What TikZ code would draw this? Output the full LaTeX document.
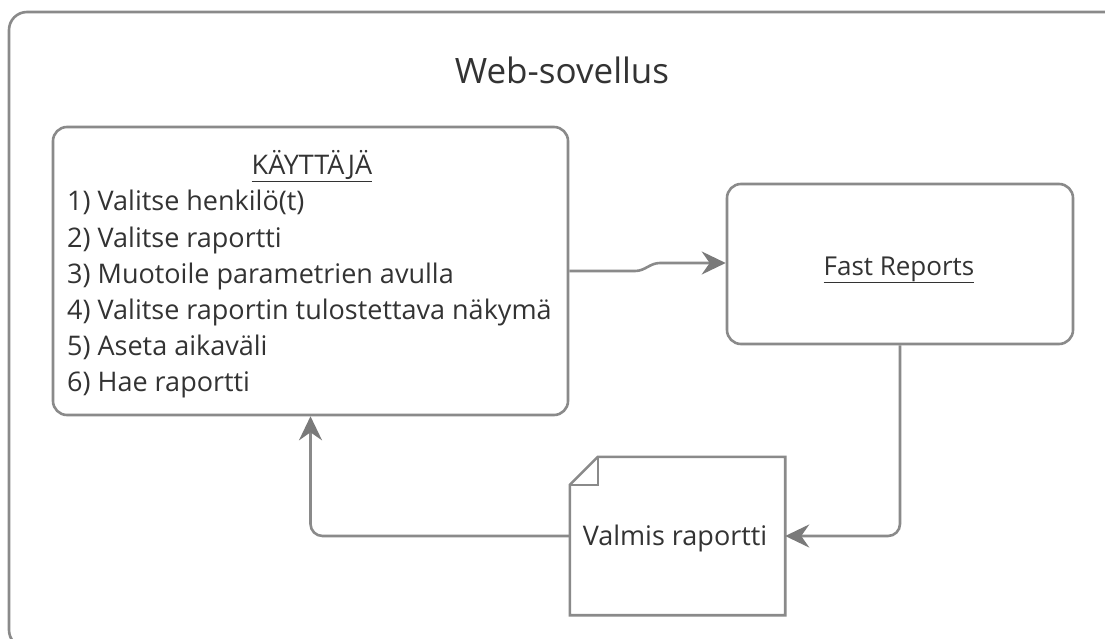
\documentclass[tikz,border=0pt]{standalone}
\usepackage{fontspec}
\setmainfont{Open Sans}
\usetikzlibrary{arrows.meta}
\definecolor{linegray}{HTML}{8A8A8A}
\definecolor{arrowgray}{HTML}{7A7A7A}
\definecolor{textgray}{HTML}{333333}
\tikzset{
  boxline/.style={draw=linegray, line width=2.6pt, rounded corners=14pt, fill=white},
  conn/.style={draw=linegray, line width=2.6pt, rounded corners=12pt, -{Stealth[length=24pt,width=23pt,inset=8pt,color=arrowgray]}},
  txt/.style={text=textgray, font=\fontsize{27}{36}\selectfont, inner sep=0pt},
  item/.style={txt, anchor=base west},
}
\begin{document}
\begin{tikzpicture}[x=1pt,y=-1pt]
\useasboundingbox (0,0) rectangle (1105,639);
\clip (0,0) rectangle (1105,639);
% outer frame (cropped at right and bottom)
\node[boxline, minimum width=1130pt, minimum height=636pt, rounded corners=18pt, inner sep=0pt] (frame) at (574,330) {};
\node[txt, font=\fontsize{35}{40}\selectfont, anchor=base] (title) at (562,84) {Web-sovellus};
% user box
\node[boxline, minimum width=515pt, minimum height=288pt, inner sep=0pt] (user) at (310.5,271) {};
\node[txt, anchor=base] (head) at (312,175) {\underline{KÄYTTÄJÄ}};
\node[item] (i1) at (67,211) {1) Valitse henkilö(t)};
\node[item] (i2) at (67,247) {2) Valitse raportti};
\node[item] (i3) at (67,283) {3) Muotoile parametrien avulla};
\node[item] (i4) at (67,319) {4) Valitse raportin tulostettava näkymä};
\node[item] (i5) at (67,355) {5) Aseta aikaväli};
\node[item] (i6) at (67,391) {6) Hae raportti};
% fast reports
\node[boxline, minimum width=346pt, minimum height=160pt, inner sep=0pt] (fast) at (900,264) {};
\node[txt, font=\fontsize{26}{30}\selectfont, anchor=base] (fastlbl) at (899,275) {\underline{Fast Reports}};
% document
\node[minimum width=215pt, minimum height=158pt, inner sep=0pt] (doc) at (677.5,536) {};
\coordinate (foldA) at ([xshift=28pt]doc.north west);
\coordinate (foldB) at ([yshift=-28pt]doc.north west);
\draw[draw=linegray, line width=2.6pt, fill=white, line join=miter] (foldA) -- (doc.north east) -- (doc.south east) -- (doc.south west) -- (foldB) -- cycle;
\draw[draw=linegray, line width=2.6pt] (foldA) -- (foldA |- foldB) -- (foldB);
\node[txt, anchor=base] (doclbl) at (675,545) {Valmis raportti};
% connectors
\coordinate (k1) at (635,271);
\coordinate (k2) at (660,263);
\draw[conn, rounded corners=0pt] (user.east) -- (k1) to[out=0,in=180] (k2) -- (k2 -| fast.west);
\draw[conn] (fast.south) |- (doc.east);
\draw[conn] (doc.west) -| (user.south);
\end{tikzpicture}
\end{document}
